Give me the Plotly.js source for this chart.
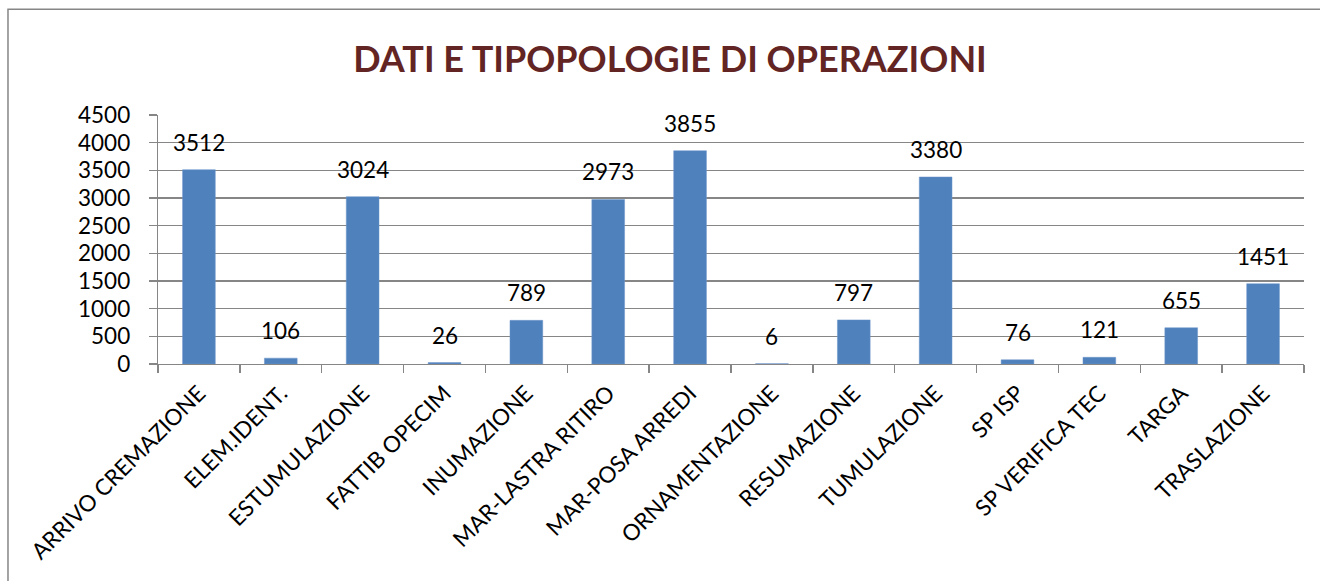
<!DOCTYPE html>
<html>
<head>
<meta charset="utf-8">
<script src="https://cdn.plot.ly/plotly-3.0.1.min.js"></script>
<style>html,body{margin:0;padding:0;background:#fff;}#chart{width:1320px;height:581px;}</style>
</head>
<body>
<div id="chart"></div>
<script>
const categories = ["ARRIVO CREMAZIONE","ELEM.IDENT.","ESTUMULAZIONE","FATTIB OPECIM","INUMAZIONE","MAR-LASTRA RITIRO","MAR-POSA ARREDI","ORNAMENTAZIONE","RESUMAZIONE","TUMULAZIONE","SP ISP","SP VERIFICA TEC","TARGA","TRASLAZIONE"];
const values = [3512,106,3024,26,789,2973,3855,6,797,3380,76,121,655,1451];
const yTicks = [0,500,1000,1500,2000,2500,3000,3500,4000,4500];

const font = "Lato, 'Open Sans', sans-serif";
const trace = {
  type: 'bar', x: categories, y: values,
  marker: {color: '#4F81BD', line: {color: '#6F97CB', width: 0.5}},
  hoverinfo: 'none'
};
const annotations = categories.map((c, i) => ({
  x: c, y: values[i], xref: 'x', yref: 'y', text: String(values[i]),
  showarrow: false, yanchor: 'bottom', yshift: 12,
  font: {family: font, size: 22.5, color: '#000'}
}));
const layout = {
  width: 1320, height: 581,
  margin: {l: 158, r: 16, t: 115, b: 217},
  paper_bgcolor: '#fff', plot_bgcolor: '#fff',
  title: {text: 'DATI E TIPOPOLOGIE DI OPERAZIONI', x: 0.5076, xanchor: 'center', y: 0.897, yanchor: 'middle', yref: 'container',
          font: {family: font, size: 36, color: '#632523', weight: 'bold'}},
  bargap: 0.6,
  showlegend: false,
  xaxis: {type: 'category', tickangle: -45, tickson: 'boundaries', ticks: 'outside', ticklen: 8, tickcolor: '#868686', tickwidth: 1.3,
          showline: true, linecolor: '#868686', linewidth: 1.3, showgrid: false, ticklabelstandoff: 6,
          tickfont: {family: font, size: 22.5, color: '#000'}},
  yaxis: {range: [0, 4500], tickvals: yTicks, ticks: 'outside', ticklen: 8, tickcolor: '#868686', tickwidth: 1.3,
          showline: true, linecolor: '#868686', linewidth: 1.3, gridcolor: '#868686', gridwidth: 1.5, zeroline: false,
          ticklabelstandoff: 14,
          tickfont: {family: font, size: 22.5, color: '#000'}},
  annotations: annotations,
  shapes: [{type: 'rect', xref: 'paper', yref: 'paper', x0: -0.1309, x1: 1.1, y0: -1.2, y1: 1.4245,
            line: {color: '#868686', width: 1.5}, fillcolor: 'rgba(0,0,0,0)', layer: 'below'}]
};
Plotly.newPlot('chart', [trace], layout, {displayModeBar: false, staticPlot: true});
</script>
</body>
</html>
